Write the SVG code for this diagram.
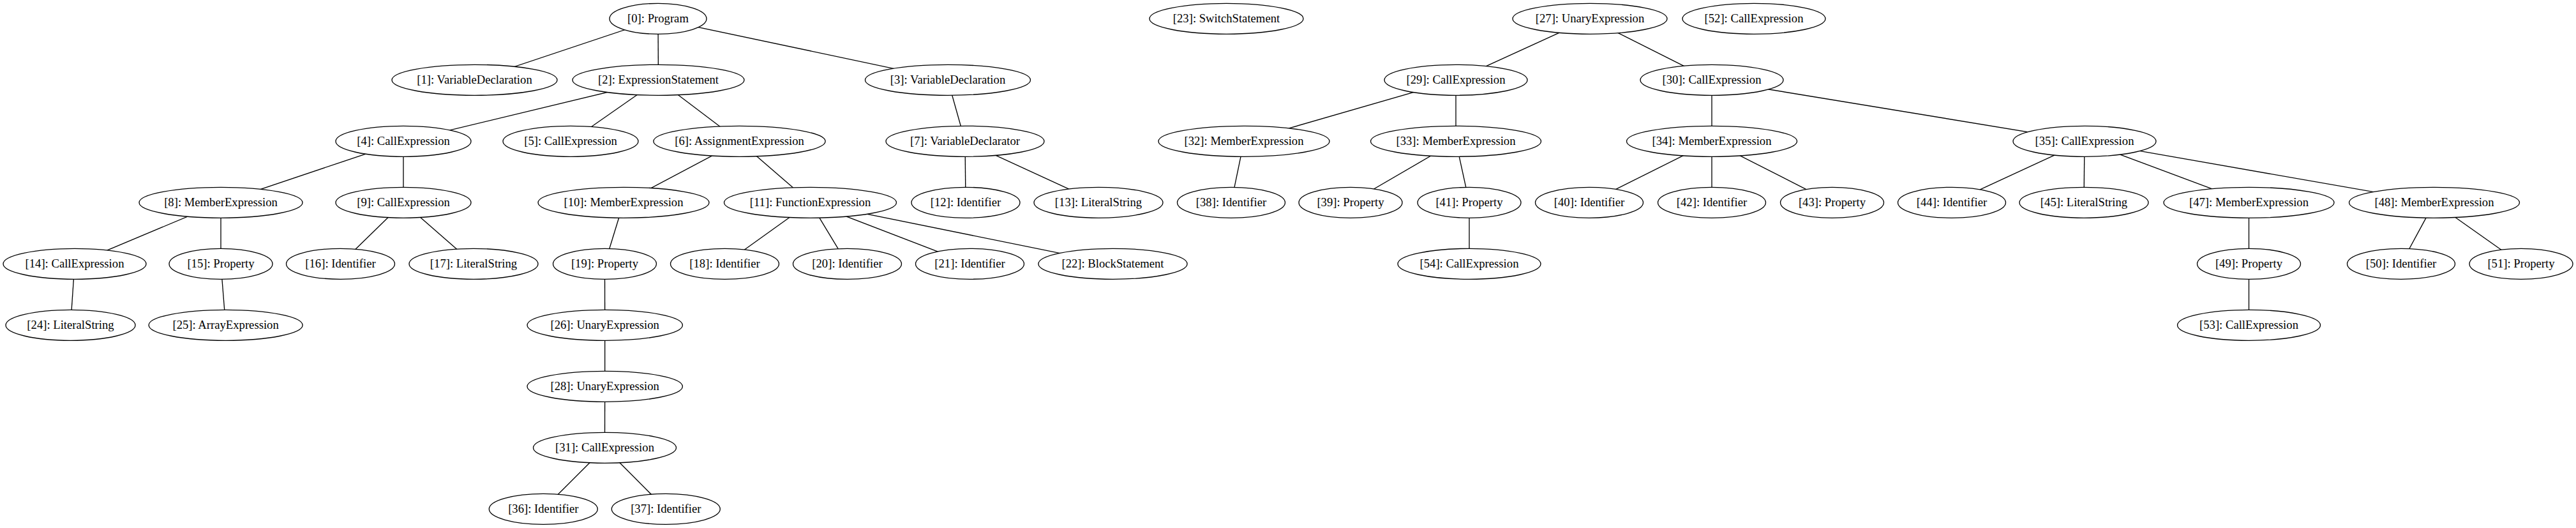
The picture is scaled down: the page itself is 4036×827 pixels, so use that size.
<svg xmlns="http://www.w3.org/2000/svg" width="4036" height="827" viewBox="0 0 4036 827">
<style>
.n ellipse{fill:#fff;stroke:#000;stroke-width:1.33}
.n text{font-family:"Liberation Serif","Times New Roman",serif;font-size:18.67px;text-anchor:middle;fill:#000}
#edges line{stroke:#000;stroke-width:1.33}
</style>
<rect width="4036" height="827" fill="#fff"/>
<g id="edges">
<line x1="1031" y1="29.3" x2="743.5" y2="125.3"/>
<line x1="1031" y1="29.3" x2="1031.5" y2="125.3"/>
<line x1="1031" y1="29.3" x2="1485" y2="125.3"/>
<line x1="1031.5" y1="125.3" x2="632" y2="221.3"/>
<line x1="1031.5" y1="125.3" x2="894" y2="221.3"/>
<line x1="1031.5" y1="125.3" x2="1158.5" y2="221.3"/>
<line x1="1485" y1="125.3" x2="1512" y2="221.3"/>
<line x1="632" y1="221.3" x2="346" y2="317.3"/>
<line x1="632" y1="221.3" x2="632" y2="317.3"/>
<line x1="1158.5" y1="221.3" x2="977" y2="317.3"/>
<line x1="1158.5" y1="221.3" x2="1269.5" y2="317.3"/>
<line x1="1512" y1="221.3" x2="1513" y2="317.3"/>
<line x1="1512" y1="221.3" x2="1721" y2="317.3"/>
<line x1="346" y1="317.3" x2="117" y2="413.3"/>
<line x1="346" y1="317.3" x2="346" y2="413.3"/>
<line x1="632" y1="317.3" x2="533.5" y2="413.3"/>
<line x1="632" y1="317.3" x2="742" y2="413.3"/>
<line x1="977" y1="317.3" x2="947.5" y2="413.3"/>
<line x1="1269.5" y1="317.3" x2="1135.5" y2="413.3"/>
<line x1="1269.5" y1="317.3" x2="1327.5" y2="413.3"/>
<line x1="1269.5" y1="317.3" x2="1519.5" y2="413.3"/>
<line x1="1269.5" y1="317.3" x2="1743.5" y2="413.3"/>
<line x1="117" y1="413.3" x2="110.5" y2="509.3"/>
<line x1="346" y1="413.3" x2="353.6" y2="509.3"/>
<line x1="947.5" y1="413.3" x2="947.7" y2="509.3"/>
<line x1="947.7" y1="509.3" x2="947.7" y2="605.3"/>
<line x1="947.7" y1="605.3" x2="947.5" y2="701.3"/>
<line x1="947.5" y1="701.3" x2="851.3" y2="797.3"/>
<line x1="947.5" y1="701.3" x2="1043.3" y2="797.3"/>
<line x1="2491" y1="29.3" x2="2281" y2="125.3"/>
<line x1="2491" y1="29.3" x2="2682" y2="125.3"/>
<line x1="2281" y1="125.3" x2="1949" y2="221.3"/>
<line x1="2281" y1="125.3" x2="2281" y2="221.3"/>
<line x1="2682" y1="125.3" x2="2682" y2="221.3"/>
<line x1="2682" y1="125.3" x2="3266" y2="221.3"/>
<line x1="1949" y1="221.3" x2="1929" y2="317.3"/>
<line x1="2281" y1="221.3" x2="2116" y2="317.3"/>
<line x1="2281" y1="221.3" x2="2302" y2="317.3"/>
<line x1="2302" y1="317.3" x2="2302" y2="413.3"/>
<line x1="2682" y1="221.3" x2="2490" y2="317.3"/>
<line x1="2682" y1="221.3" x2="2682" y2="317.3"/>
<line x1="2682" y1="221.3" x2="2870.5" y2="317.3"/>
<line x1="3266" y1="221.3" x2="3058" y2="317.3"/>
<line x1="3266" y1="221.3" x2="3265" y2="317.3"/>
<line x1="3266" y1="221.3" x2="3523.5" y2="317.3"/>
<line x1="3266" y1="221.3" x2="3814" y2="317.3"/>
<line x1="3523.5" y1="317.3" x2="3523.5" y2="413.3"/>
<line x1="3523.5" y1="413.3" x2="3523.5" y2="509.3"/>
<line x1="3814" y1="317.3" x2="3762" y2="413.3"/>
<line x1="3814" y1="317.3" x2="3950" y2="413.3"/>
</g>
<g id="node0" class="n"><ellipse cx="1031" cy="29.3" rx="76" ry="24"/><text x="1031" y="35.3">[0]: Program</text></g>
<g id="node1" class="n"><ellipse cx="743.5" cy="125.3" rx="129.5" ry="24"/><text x="743.5" y="131.3">[1]: VariableDeclaration</text></g>
<g id="node2" class="n"><ellipse cx="1031.5" cy="125.3" rx="134.5" ry="24"/><text x="1031.5" y="131.3">[2]: ExpressionStatement</text></g>
<g id="node3" class="n"><ellipse cx="1485" cy="125.3" rx="129.5" ry="24"/><text x="1485" y="131.3">[3]: VariableDeclaration</text></g>
<g id="node4" class="n"><ellipse cx="632" cy="221.3" rx="106" ry="24"/><text x="632" y="227.3">[4]: CallExpression</text></g>
<g id="node5" class="n"><ellipse cx="894" cy="221.3" rx="106" ry="24"/><text x="894" y="227.3">[5]: CallExpression</text></g>
<g id="node6" class="n"><ellipse cx="1158.5" cy="221.3" rx="134.6" ry="24"/><text x="1158.5" y="227.3">[6]: AssignmentExpression</text></g>
<g id="node7" class="n"><ellipse cx="1512" cy="221.3" rx="124" ry="24"/><text x="1512" y="227.3">[7]: VariableDeclarator</text></g>
<g id="node8" class="n"><ellipse cx="346" cy="317.3" rx="128" ry="24"/><text x="346" y="323.3">[8]: MemberExpression</text></g>
<g id="node9" class="n"><ellipse cx="632" cy="317.3" rx="106" ry="24"/><text x="632" y="323.3">[9]: CallExpression</text></g>
<g id="node10" class="n"><ellipse cx="977" cy="317.3" rx="134" ry="24"/><text x="977" y="323.3">[10]: MemberExpression</text></g>
<g id="node11" class="n"><ellipse cx="1269.5" cy="317.3" rx="135" ry="24"/><text x="1269.5" y="323.3">[11]: FunctionExpression</text></g>
<g id="node12" class="n"><ellipse cx="1513" cy="317.3" rx="85" ry="24"/><text x="1513" y="323.3">[12]: Identifier</text></g>
<g id="node13" class="n"><ellipse cx="1721" cy="317.3" rx="101" ry="24"/><text x="1721" y="323.3">[13]: LiteralString</text></g>
<g id="node14" class="n"><ellipse cx="117" cy="413.3" rx="112" ry="24"/><text x="117" y="419.3">[14]: CallExpression</text></g>
<g id="node15" class="n"><ellipse cx="346" cy="413.3" rx="81" ry="24"/><text x="346" y="419.3">[15]: Property</text></g>
<g id="node16" class="n"><ellipse cx="533.5" cy="413.3" rx="85" ry="24"/><text x="533.5" y="419.3">[16]: Identifier</text></g>
<g id="node17" class="n"><ellipse cx="742" cy="413.3" rx="101" ry="24"/><text x="742" y="419.3">[17]: LiteralString</text></g>
<g id="node19" class="n"><ellipse cx="947.5" cy="413.3" rx="81" ry="24"/><text x="947.5" y="419.3">[19]: Property</text></g>
<g id="node18" class="n"><ellipse cx="1135.5" cy="413.3" rx="85" ry="24"/><text x="1135.5" y="419.3">[18]: Identifier</text></g>
<g id="node20" class="n"><ellipse cx="1327.5" cy="413.3" rx="85" ry="24"/><text x="1327.5" y="419.3">[20]: Identifier</text></g>
<g id="node21" class="n"><ellipse cx="1519.5" cy="413.3" rx="85" ry="24"/><text x="1519.5" y="419.3">[21]: Identifier</text></g>
<g id="node22" class="n"><ellipse cx="1743.5" cy="413.3" rx="116.6" ry="24"/><text x="1743.5" y="419.3">[22]: BlockStatement</text></g>
<g id="node24" class="n"><ellipse cx="110.5" cy="509.3" rx="101.5" ry="24"/><text x="110.5" y="515.3">[24]: LiteralString</text></g>
<g id="node25" class="n"><ellipse cx="353.6" cy="509.3" rx="120.5" ry="24"/><text x="353.6" y="515.3">[25]: ArrayExpression</text></g>
<g id="node26" class="n"><ellipse cx="947.7" cy="509.3" rx="121.7" ry="24"/><text x="947.7" y="515.3">[26]: UnaryExpression</text></g>
<g id="node28" class="n"><ellipse cx="947.7" cy="605.3" rx="121.7" ry="24"/><text x="947.7" y="611.3">[28]: UnaryExpression</text></g>
<g id="node31" class="n"><ellipse cx="947.5" cy="701.3" rx="112" ry="24"/><text x="947.5" y="707.3">[31]: CallExpression</text></g>
<g id="node36" class="n"><ellipse cx="851.3" cy="797.3" rx="85" ry="24"/><text x="851.3" y="803.3">[36]: Identifier</text></g>
<g id="node37" class="n"><ellipse cx="1043.3" cy="797.3" rx="85" ry="24"/><text x="1043.3" y="803.3">[37]: Identifier</text></g>
<g id="node23" class="n"><ellipse cx="1921.5" cy="29.3" rx="120.5" ry="24"/><text x="1921.5" y="35.3">[23]: SwitchStatement</text></g>
<g id="node27" class="n"><ellipse cx="2491" cy="29.3" rx="121" ry="24"/><text x="2491" y="35.3">[27]: UnaryExpression</text></g>
<g id="node52" class="n"><ellipse cx="2748" cy="29.3" rx="112" ry="24"/><text x="2748" y="35.3">[52]: CallExpression</text></g>
<g id="node29" class="n"><ellipse cx="2281" cy="125.3" rx="112" ry="24"/><text x="2281" y="131.3">[29]: CallExpression</text></g>
<g id="node30" class="n"><ellipse cx="2682" cy="125.3" rx="112" ry="24"/><text x="2682" y="131.3">[30]: CallExpression</text></g>
<g id="node32" class="n"><ellipse cx="1949" cy="221.3" rx="134" ry="24"/><text x="1949" y="227.3">[32]: MemberExpression</text></g>
<g id="node33" class="n"><ellipse cx="2281" cy="221.3" rx="133.5" ry="24"/><text x="2281" y="227.3">[33]: MemberExpression</text></g>
<g id="node34" class="n"><ellipse cx="2682" cy="221.3" rx="133.5" ry="24"/><text x="2682" y="227.3">[34]: MemberExpression</text></g>
<g id="node35" class="n"><ellipse cx="3266" cy="221.3" rx="112" ry="24"/><text x="3266" y="227.3">[35]: CallExpression</text></g>
<g id="node38" class="n"><ellipse cx="1929" cy="317.3" rx="84.5" ry="24"/><text x="1929" y="323.3">[38]: Identifier</text></g>
<g id="node39" class="n"><ellipse cx="2116" cy="317.3" rx="81" ry="24"/><text x="2116" y="323.3">[39]: Property</text></g>
<g id="node41" class="n"><ellipse cx="2302" cy="317.3" rx="81" ry="24"/><text x="2302" y="323.3">[41]: Property</text></g>
<g id="node40" class="n"><ellipse cx="2490" cy="317.3" rx="84.5" ry="24"/><text x="2490" y="323.3">[40]: Identifier</text></g>
<g id="node42" class="n"><ellipse cx="2682" cy="317.3" rx="84.5" ry="24"/><text x="2682" y="323.3">[42]: Identifier</text></g>
<g id="node43" class="n"><ellipse cx="2870.5" cy="317.3" rx="81" ry="24"/><text x="2870.5" y="323.3">[43]: Property</text></g>
<g id="node44" class="n"><ellipse cx="3058" cy="317.3" rx="84.5" ry="24"/><text x="3058" y="323.3">[44]: Identifier</text></g>
<g id="node45" class="n"><ellipse cx="3265" cy="317.3" rx="101" ry="24"/><text x="3265" y="323.3">[45]: LiteralString</text></g>
<g id="node47" class="n"><ellipse cx="3523.5" cy="317.3" rx="133.5" ry="24"/><text x="3523.5" y="323.3">[47]: MemberExpression</text></g>
<g id="node48" class="n"><ellipse cx="3814" cy="317.3" rx="133.5" ry="24"/><text x="3814" y="323.3">[48]: MemberExpression</text></g>
<g id="node54" class="n"><ellipse cx="2302" cy="413.3" rx="112" ry="24"/><text x="2302" y="419.3">[54]: CallExpression</text></g>
<g id="node49" class="n"><ellipse cx="3523.5" cy="413.3" rx="81" ry="24"/><text x="3523.5" y="419.3">[49]: Property</text></g>
<g id="node50" class="n"><ellipse cx="3762" cy="413.3" rx="84.5" ry="24"/><text x="3762" y="419.3">[50]: Identifier</text></g>
<g id="node51" class="n"><ellipse cx="3950" cy="413.3" rx="81" ry="24"/><text x="3950" y="419.3">[51]: Property</text></g>
<g id="node53" class="n"><ellipse cx="3523.5" cy="509.3" rx="112" ry="24"/><text x="3523.5" y="515.3">[53]: CallExpression</text></g>
</svg>
